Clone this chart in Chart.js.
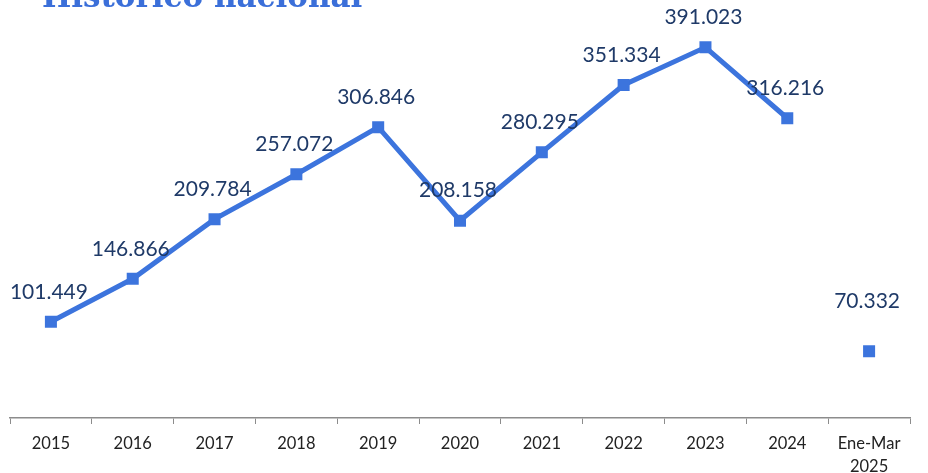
<!DOCTYPE html>
<html>
<head>
<meta charset="utf-8">
<script src="https://cdn.jsdelivr.net/npm/chart.js@4"></script>
<style>
  body { margin: 0; background: #fff; overflow: hidden; }
  #wrap { position: relative; width: 928px; height: 473px; }
  #titulo {
    position: absolute; left: 42px; top: -22px;
    font-family: "DejaVu Serif", serif; font-weight: bold; font-size: 31px;
    color: #3b6fd9; white-space: nowrap;
  }
  canvas { position: absolute; left: 0; top: 0; }
</style>
</head>
<body>
<div id="wrap">
  <canvas id="grafica" width="928" height="473"></canvas>
  <div id="titulo">Histórico nacional</div>
</div>
<script>
// datos
const categorias = ['2015', '2016', '2017', '2018', '2019', '2020', '2021', '2022', '2023', '2024', ['Ene-Mar', '2025']];
const valoresAnuales = [101449, 146866, 209784, 257072, 306846, 208158, 280295, 351334, 391023, 316216, null];
const valorParcial = [null, null, null, null, null, null, null, null, null, null, 70332];

const azul = '#3c74dd';

// etiquetas de datos encima de cada punto
const etiquetas = {
    id: 'etiquetas',
    afterDatasetsDraw(chart) {
        const ctx = chart.ctx;
        ctx.save();
        ctx.font = '21px Lato, "Open Sans", sans-serif';
        ctx.fillStyle = '#1f3a68';
        ctx.textAlign = 'center';
        ctx.textBaseline = 'middle';
        chart.data.datasets.forEach((ds, i) => {
            const meta = chart.getDatasetMeta(i);
            ds.data.forEach((v, j) => {
                if (v === null) return;
                const p = meta.data[j];
                const dy = i === 1 ? 50 : 30;
                ctx.fillText(v.toLocaleString('de-DE'), p.x - 2, p.y - dy);
            });
        });
        ctx.restore();
    }
};

new Chart(document.getElementById('grafica').getContext('2d'), {
    type: 'line',
    data: {
        labels: categorias,
        datasets: [{
            data: valoresAnuales,
            borderColor: azul,
            backgroundColor: azul,
            borderWidth: 5,
            pointStyle: 'rect',
            pointRadius: 8.5,
            pointBorderWidth: 0,
            tension: 0
        }, {
            data: valorParcial,
            showLine: false,
            borderColor: azul,
            backgroundColor: azul,
            pointStyle: 'rect',
            pointRadius: 8.5,
            pointBorderWidth: 0
        }]
    },
    options: {
        responsive: false,
        animation: false,
        layout: { padding: { left: 10, right: 18, top: 0, bottom: 0 } },
        plugins: { legend: { display: false }, tooltip: { enabled: false } },
        scales: {
            x: {
                offset: true,
                afterFit: (scale) => { scale.height = 55; }, // el eje queda en y=418
                grid: {
                    offset: true,
                    drawOnChartArea: false,
                    drawTicks: true,
                    tickLength: 6,
                    color: '#8c8c8c'
                },
                border: { color: '#8c8c8c', width: 1.5 },
                ticks: {
                    color: '#222',
                    font: { family: 'Lato, "Open Sans", sans-serif', size: 16.5, lineHeight: 1.4 },
                    padding: 8,
                    maxRotation: 0,
                    autoSkip: false
                }
            },
            y: {
                display: false,
                min: 0,
                max: 432000
            }
        }
    },
    plugins: [etiquetas]
});
</script>
</body>
</html>
